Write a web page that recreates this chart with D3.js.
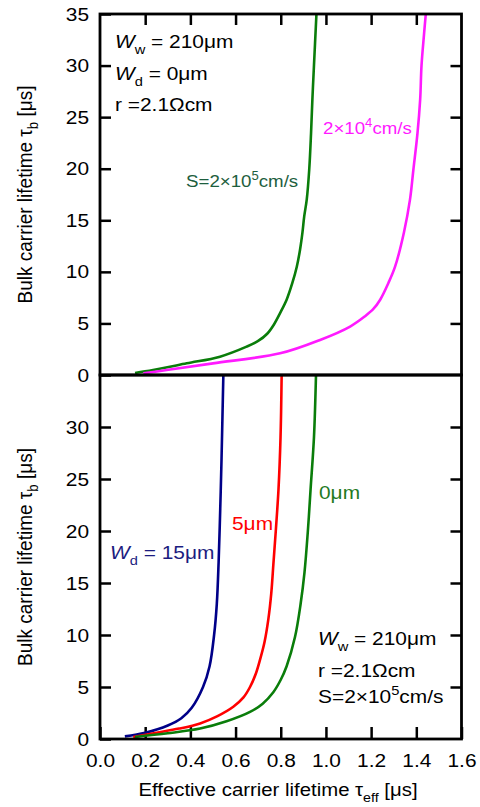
<!DOCTYPE html>
<html>
<head>
<meta charset="utf-8">
<script src="https://cdn.jsdelivr.net/npm/d3@7"></script>
<style>
  body { margin: 0; background: #fff; }
  svg { display: block; font-family: "Liberation Sans", Arial, sans-serif; }
  .tick text { font-size: 19px; fill: #000; }
</style>
</head>
<body>
<svg id="graphic" width="480" height="807"></svg>
<script>
// tick values
const xTicks = [0, 0.2, 0.4, 0.6, 0.8, 1.0, 1.2, 1.4, 1.6];
const yTicksTop = [0, 5, 10, 15, 20, 25, 30, 35];
const yTicksBottom = [0, 5, 10, 15, 20, 25, 30];

// top panel: Wd = 0um, two surface recombination velocities  [tau_eff, tau_b]
const topS5 = [[0.155, 0.2], [0.235, 0.48], [0.384, 1.13], [0.531, 1.78], [0.649, 2.75],
  [0.70, 3.3], [0.74, 4.0], [0.77, 4.9], [0.797, 6.0], [0.826, 7.3], [0.851, 8.9],
  [0.871, 10.5], [0.885, 12.1], [0.896, 13.8], [0.904, 15.4], [0.915, 17], [0.926, 19.9],
  [0.934, 23.4], [0.94, 26.7], [0.947, 30], [0.958, 35]];
const topS4 = [[0.192, 0.16], [0.295, 0.48], [0.5, 1.13], [0.797, 2.1], [0.974, 3.4],
  [1.107, 4.7], [1.173, 5.7], [1.21, 6.4], [1.24, 7.3], [1.276, 8.9], [1.306, 10.5],
  [1.345, 13.8], [1.372, 17], [1.387, 19.9], [1.405, 23.4], [1.417, 26.7], [1.423, 30],
  [1.434, 33], [1.442, 35]];

// bottom panel: S = 2e5 cm/s, three Wd values
const bot15 = [[0.11, 0.25], [0.2, 0.6], [0.3, 1.3], [0.36, 2.0], [0.406, 3.0], [0.456, 5.0],
  [0.485, 7.0], [0.505, 10], [0.517, 13], [0.525, 17], [0.532, 22], [0.538, 27],
  [0.542, 31], [0.546, 35]];
const bot5 = [[0.147, 0.2], [0.25, 0.6], [0.35, 1.0], [0.443, 1.5], [0.52, 2.2], [0.59, 3.1],
  [0.635, 4.0], [0.664, 5.0], [0.69, 6.3], [0.708, 7.6], [0.728, 9.3], [0.745, 11.5],
  [0.758, 14], [0.768, 17], [0.778, 20], [0.79, 24], [0.799, 29], [0.804, 35]];
const bot0 = [[0.155, 0.2], [0.3, 0.55], [0.443, 1.0], [0.56, 1.7], [0.664, 2.6], [0.72, 3.4],
  [0.767, 4.5], [0.8, 5.7], [0.826, 7.0], [0.863, 9.8], [0.888, 13], [0.905, 16],
  [0.92, 20], [0.932, 24], [0.947, 29], [0.956, 35]];

const svg = d3.select('#graphic');
const left = 100, right = 461.5;
const top1 = 14, mid = 375, bot = 739;
const sx = 1.1; // text in the source is slightly wide

const x = d3.scaleLinear().domain([0, 1.6]).range([left, right]);
const yTop = d3.scaleLinear().domain([0, 35]).range([mid, top1]);
const yBot = d3.scaleLinear().domain([0, 35]).range([bot, mid]);

function styleAxis(g) {
  g.select('.domain').remove();
  g.selectAll('.tick line').attr('stroke', '#000').attr('stroke-width', 2.5);
  g.selectAll('.tick text').attr('transform', `scale(${sx},1)`);
}

// top panel axes
svg.append('g').attr('transform', `translate(${left},0)`)
    .call(d3.axisLeft(yTop).tickValues(yTicksTop).tickSize(-11).tickPadding(10).tickFormat(d3.format('d')))
    .call(styleAxis);
svg.append('g').attr('transform', `translate(${right},0)`)
    .call(d3.axisRight(yTop).tickValues(yTicksTop.slice(1, -1)).tickSize(-11).tickFormat(''))
    .call(styleAxis);
svg.append('g').attr('transform', `translate(0,${top1})`)
    .call(d3.axisTop(x).tickValues(xTicks.slice(1, -1)).tickSize(-11).tickFormat(''))
    .call(styleAxis);

// bottom panel axes
svg.append('g').attr('transform', `translate(${left},0)`)
    .call(d3.axisLeft(yBot).tickValues(yTicksBottom).tickSize(-11).tickPadding(10).tickFormat(d3.format('d')))
    .call(styleAxis);
svg.append('g').attr('transform', `translate(${right},0)`)
    .call(d3.axisRight(yBot).tickValues(yTicksBottom.slice(1)).tickSize(-11).tickFormat(''))
    .call(styleAxis);
svg.append('g').attr('transform', `translate(0,${bot})`)
    .call(d3.axisBottom(x).tickValues(xTicks).tickSize(-12).tickPadding(15).tickFormat(d3.format('.1f')))
    .call(styleAxis);

// clip curves to panels
const defs = svg.append('defs');
defs.append('clipPath').attr('id', 'clipTop').append('rect')
    .attr('x', left).attr('y', top1).attr('width', right - left).attr('height', mid - top1);
defs.append('clipPath').attr('id', 'clipBot').append('rect')
    .attr('x', left).attr('y', mid).attr('width', right - left).attr('height', bot - mid);

function drawCurve(data, yScale, color, clip) {
  const line = d3.line()
      .x((d) => x(d[0]))
      .y((d) => yScale(d[1]))
      .curve(d3.curveCatmullRom.alpha(0.5));
  svg.append('path')
      .datum(data)
      .attr('d', line)
      .attr('fill', 'none')
      .attr('stroke', color)
      .attr('stroke-width', 2.6)
      .attr('stroke-linejoin', 'round')
      .attr('clip-path', `url(#${clip})`);
}

drawCurve(topS5, yTop, '#0a7d0a', 'clipTop');
drawCurve(topS4, yTop, '#ff1aff', 'clipTop');
drawCurve(bot15, yBot, '#000088', 'clipBot');
drawCurve(bot5, yBot, '#ff0000', 'clipBot');
drawCurve(bot0, yBot, '#0a7d0a', 'clipBot');

// frames
svg.append('rect').attr('x', left).attr('y', top1).attr('width', right - left).attr('height', mid - top1)
    .attr('fill', 'none').attr('stroke', '#000').attr('stroke-width', 2.8);
svg.append('rect').attr('x', left).attr('y', mid).attr('width', right - left).attr('height', bot - mid)
    .attr('fill', 'none').attr('stroke', '#000').attr('stroke-width', 2.8);

// text helper: parts = [[text, kind]] kind: '', 'i' italic, 'sub', 'sup'
function label(px, py, parts, color, size, anchor, rot) {
  const t = svg.append('text').attr('x', 0).attr('y', 0)
      .attr('transform', rot ? `translate(${px},${py}) rotate(-90) scale(1,${sx})` :
        `translate(${px},${py}) scale(${sx},1)`)
      .attr('font-size', size).attr('fill', color).attr('text-anchor', anchor || 'start');
  let shift = 0;
  parts.forEach(([s, k]) => {
    const ts = t.append('tspan').text(s);
    let target = 0;
    if (k === 'sub') { target = size * 0.3; ts.attr('font-size', size * 0.7); }
    if (k === 'sup') { target = -size * 0.42; ts.attr('font-size', size * 0.7); }
    if (k === 'i') ts.attr('font-style', 'italic');
    if (target !== shift) ts.attr('dy', target - shift);
    shift = target;
  });
  return t;
}

// top panel annotations
label(115, 48, [['W', 'i'], ['w', 'sub'], [' = 210μm', '']], '#000', 19);
label(115, 80, [['W', 'i'], ['d', 'sub'], [' = 0μm', '']], '#000', 19);
label(115, 111, [['r =2.1Ωcm', '']], '#000', 19);
label(323, 134, [['2×10', ''], ['4', 'sup'], ['cm/s', '']], '#ff1aff', 17);
label(186, 187, [['S=2×10', ''], ['5', 'sup'], ['cm/s', '']], '#1d5e3e', 17);

// bottom panel annotations
label(319, 499, [['0μm', '']], '#1f7a1f', 19);
label(232, 530, [['5μm', '']], '#ff0000', 19);
label(110, 559, [['W', 'i'], ['d', 'sub'], [' = 15μm', '']], '#1c1c80', 19);
label(318, 645, [['W', 'i'], ['w', 'sub'], [' = 210μm', '']], '#000', 19);
label(318, 677, [['r =2.1Ωcm', '']], '#000', 19);
label(318, 703, [['S=2×10', ''], ['5', 'sup'], ['cm/s', '']], '#000', 19);

// axis titles
label(278, 796, [['Effective carrier lifetime τ', ''], ['eff', 'sub'], [' [μs]', '']], '#000', 18.5, 'middle');
[(top1 + mid) / 2, (mid + bot) / 2].forEach((cy) => {
  label(32, cy, [['Bulk carrier lifetime τ', ''], ['b', 'sub'], [' [μs]', '']], '#000', 19, 'middle', true);
});
</script>
</body>
</html>
